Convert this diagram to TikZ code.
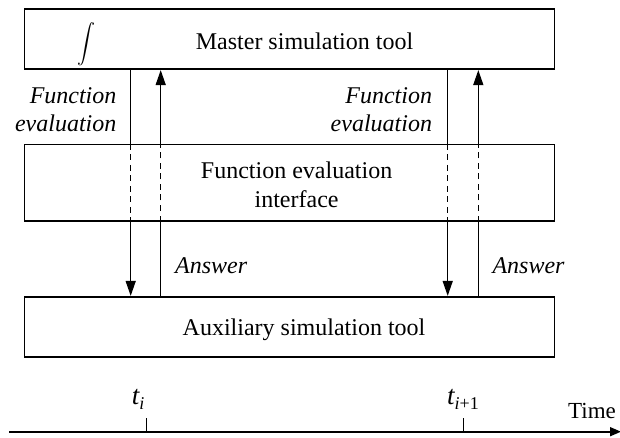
\documentclass[tikz,border=0pt]{standalone}
\usepackage{fontspec}
\usepackage{graphicx}
\setmainfont{Liberation Serif}
\usetikzlibrary{arrows.meta}
\tikzset{
  box/.style={draw, line width=1.6pt, minimum width=529.8pt, inner sep=0pt},
  lbl/.style={inner sep=0pt, font=\fontsize{24}{28.4}\selectfont},
  ilbl/.style={inner sep=0pt, font=\fontsize{24}{28.4}\selectfont\itshape},
  conn/.style={line width=1.4pt},
  dconn/.style={line width=1.4pt, dash pattern=on 6pt off 4.5pt},
  tip/.style={-{Triangle[length=15pt,width=10pt]}},
}
\begin{document}
\begin{tikzpicture}[x=1pt,y=-1pt]
\useasboundingbox (0,0) rectangle (620,438);
% boxes
\node[box, minimum height=60.3pt] (master) at (289.4,39.15) {};
\node[box, minimum height=76pt] (iface) at (289.4,182.7) {};
\node[box, minimum height=60pt] (aux) at (289.4,326.7) {};
% box texts
\node[lbl, anchor=base] (mtxt) at (304.5,50) {Master simulation tool};
\node[inner sep=0pt] (intg) at (86,44) {\scalebox{1.8}[1.95]{$\displaystyle\int$}};
\node[lbl, anchor=north, align=center] (itxt) at (296.6,162) {Function evaluation\\interface};
\node[lbl, anchor=base] (atxt) at (304,335) {Auxiliary simulation tool};
% connector x positions
\coordinate (x1) at (130.7,0);
\coordinate (x2) at (160.7,0);
\coordinate (x3) at (447.7,0);
\coordinate (x4) at (478.3,0);
% left pair
\draw[conn] (x1 |- master.south) -- (x1 |- iface.north);
\draw[dconn] (x1 |- iface.north) -- (x1 |- iface.south);
\draw[conn, tip] (x1 |- iface.south) -- (x1 |- aux.north);
\draw[conn] (x2 |- aux.north) -- (x2 |- iface.south);
\draw[dconn] (x2 |- iface.south) -- (x2 |- iface.north);
\draw[conn, tip] (x2 |- iface.north) -- (x2 |- master.south);
% right pair
\draw[conn] (x3 |- master.south) -- (x3 |- iface.north);
\draw[dconn] (x3 |- iface.north) -- (x3 |- iface.south);
\draw[conn, tip] (x3 |- iface.south) -- (x3 |- aux.north);
\draw[conn] (x4 |- aux.north) -- (x4 |- iface.south);
\draw[dconn] (x4 |- iface.south) -- (x4 |- iface.north);
\draw[conn, tip] (x4 |- iface.north) -- (x4 |- master.south);
% labels
\node[ilbl, anchor=north east, align=right] (fe1) at (116.6,87.5) {Function\\evaluation};
\node[ilbl, anchor=north east, align=right] (fe2) at (432.2,87.5) {Function\\evaluation};
\node[ilbl, anchor=base west] (ans1) at (175,273) {Answer};
\node[ilbl, anchor=base west] (ans2) at (492.3,273) {Answer};
% time axis
\coordinate (ax0) at (9,431.7);
\coordinate (ax1) at (621,431.7);
\draw[line width=1.6pt, -{Triangle[length=11pt,width=9pt]}] (ax0) -- (ax1);
\coordinate (t1b) at (146.3,431.7);
\coordinate (t1t) at (146.3,418);
\coordinate (t2b) at (463.3,431.7);
\coordinate (t2t) at (463.3,418);
\draw[line width=1.4pt] (t1b) -- (t1t);
\draw[line width=1.4pt] (t2b) -- (t2t);
\node[inner sep=0pt, anchor=base west] (ti) at (131.7,404) {\fontsize{27}{27}\selectfont\itshape t\raisebox{-5pt}{\fontsize{18}{18}\selectfont i}};
\node[inner sep=0pt, anchor=base west] (ti1) at (447,404) {\fontsize{27}{27}\selectfont\itshape t\raisebox{-5pt}{\fontsize{18}{18}\selectfont i\upshape +1}};
\node[inner sep=0pt, anchor=base west, font=\fontsize{23}{23}\selectfont] (time) at (568,418) {Time};
\end{tikzpicture}
\end{document}
